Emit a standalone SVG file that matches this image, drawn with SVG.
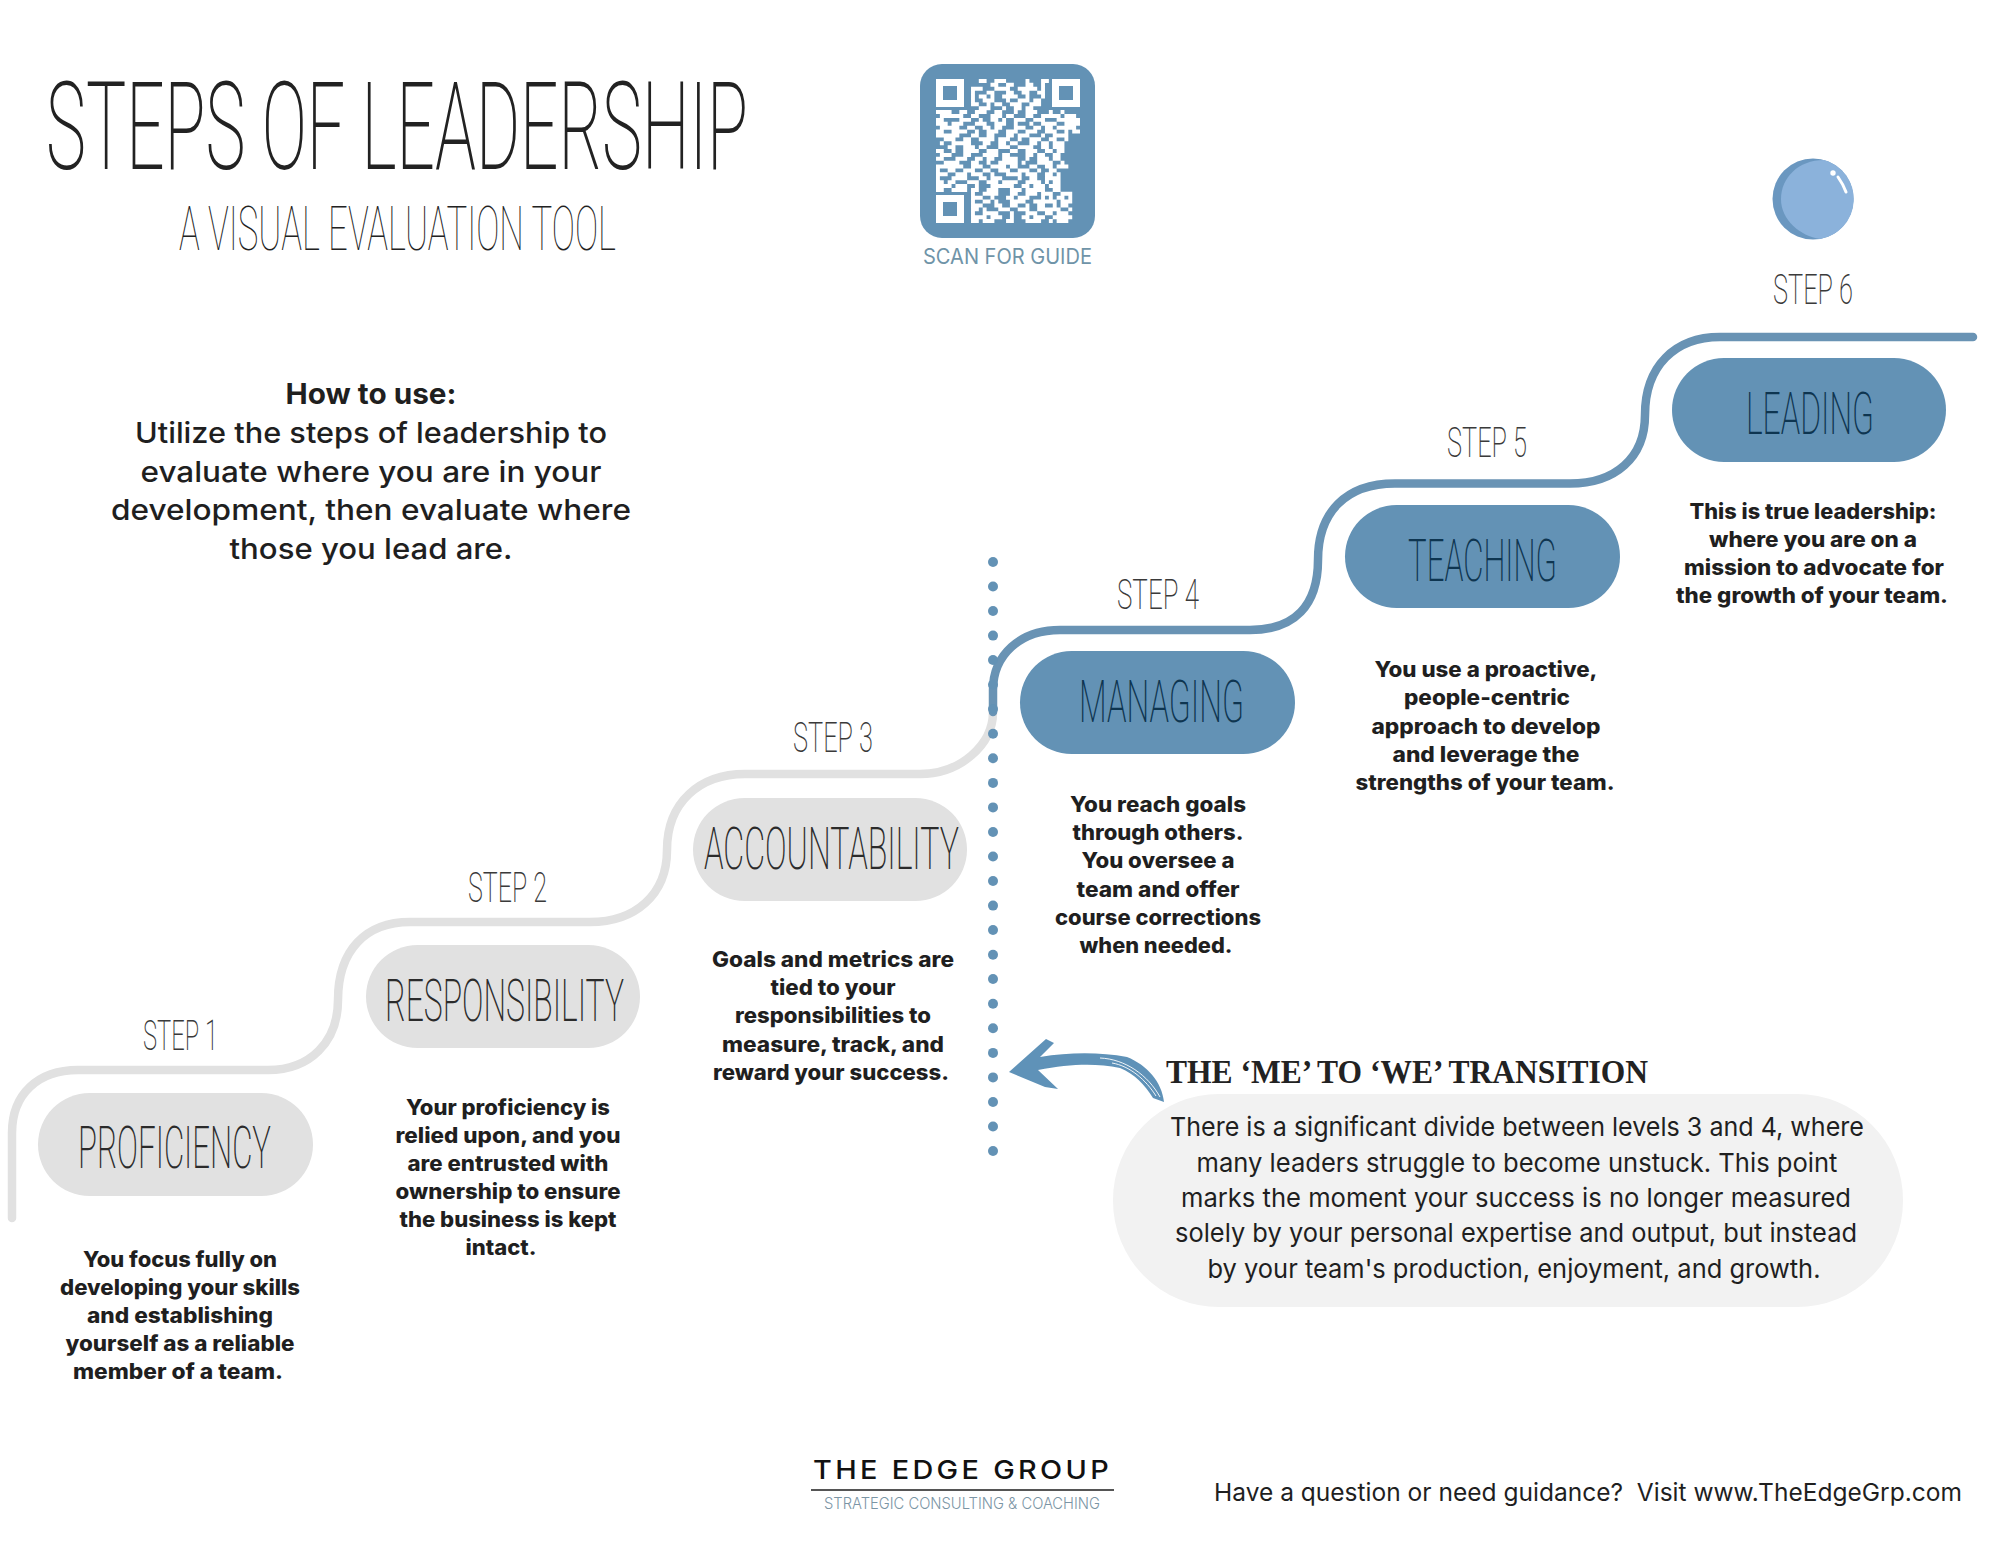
<svg xmlns="http://www.w3.org/2000/svg" width="2000" height="1545" viewBox="0 0 2000 1545">
<style>
text{font-family:"Roboto","Liberation Sans",sans-serif}
.thin{font-family:"Roboto","Liberation Sans",sans-serif;font-weight:200;fill:#222}
.pl{font-size:59px;fill:#2b2b2b}
.pd{font-size:59px;fill:#0e3550}
.st{font-size:42px;fill:#3a3a3a}
.d{font-family:"Inter","Liberation Sans",sans-serif;font-weight:800;font-size:21px;fill:#1f1f1f}
.u{font-family:"Inter","Liberation Sans",sans-serif;font-weight:500;font-size:29px;fill:#1f1f1f}
.b{font-family:"Inter","Liberation Sans",sans-serif;font-weight:400;font-size:26px;fill:#1f1f1f}
.grey{fill:#e1e1e1}.blue{fill:#6392b5}
.line{fill:none;stroke-width:8.5;stroke-linecap:round}
</style>
<rect width="2000" height="1545" fill="#fff"/>
<g id="title">
<text class="thin" x="46" y="169" font-size="122" textLength="702" lengthAdjust="spacingAndGlyphs">STEPS OF LEADERSHIP</text>
<text class="thin" x="179" y="250" font-size="61" textLength="437" lengthAdjust="spacingAndGlyphs" style="font-weight:100">A VISUAL EVALUATION TOOL</text>
</g>
<g id="qr">
<rect x="920" y="64" width="175" height="174" rx="22" fill="#6392b5"/>
<path fill="#fff" fill-rule="evenodd" d="M936 79h28v28h-28zM943 86v14h14v-14zM1052 79h28v28h-28zM1059 86v14h14v-14zM936 195h28v28h-28zM943 202v14h14v-14z"/>
<path transform="translate(936 79) scale(3.892)" fill="none" stroke="#fff" stroke-width="1.02" d="M11 .5h2m2 0h3m5 0h1m3 0h2M14 1.5h2m2 0h2m3 0h2m2 0h1M9 2.5h3m3 0h4m2 0h5m1 0h1M9 3.5h1m3 0h2m3 0h2m2 0h2m2 0h2M9 4.5h1m1 0h2m1 0h1m2 0h4m2 0h1m3 0h1M9 5.5h1m2 0h3m3 0h1m2 0h3m1 0h2M9 6.5h2m2 0h1m1 0h2m2 0h3m2 0h3M11 7.5h3m3 0h1m2 0h2m1 0h2M0 8.5h4m2 0h2m2 0h3m2 0h2m3 0h1m2 0h3m3 0h1m2 0h1M1 9.5h6m2 0h2m3 0h3m1 0h2m3 0h2m2 0h5m1 0h3M0 10.5h2m4 0h3m2 0h1m2 0h2m1 0h1m2 0h3m2 0h3m3 0h6M0 11.5h3m1 0h3m3 0h3m2 0h3m2 0h1m3 0h1m2 0h4m2 0h4M1 12.5h5m2 0h2m2 0h2m1 0h2m3 0h3m2 0h2m1 0h2m1 0h5M0 13.5h2m2 0h4m2 0h1m2 0h3m2 0h3m2 0h3m2 0h3m2 0h1m1 0h2M0 14.5h6m3 0h2m2 0h2m3 0h2m1 0h3m3 0h1m2 0h4M2 15.5h3m2 0h2m2 0h4m1 0h3m2 0h1m2 0h3m2 0h2m2 0h1M1 16.5h1m2 0h5m3 0h2m2 0h2m1 0h2m3 0h2m1 0h2m1 0h3M3 17.5h2m2 0h3m1 0h2m3 0h3m2 0h4m2 0h2m1 0h3M0 18.5h2m2 0h1m2 0h4m2 0h3m3 0h2m2 0h3m2 0h2m1 0h2M1 19.5h3m3 0h2m3 0h4m1 0h2m4 0h2m1 0h2m2 0h2M0 20.5h2m3 0h3m2 0h2m1 0h2m2 0h4m2 0h1m2 0h3m1 0h2M2 21.5h4m3 0h2m2 0h1m2 0h5m1 0h1m3 0h4m2 0h1M0 22.5h7m2 0h3m2 0h4m1 0h2m3 0h2m2 0h2m1 0h3M0 23.5h1m2 0h2m2 0h3m2 0h2m2 0h3m2 0h3m2 0h1m2 0h2M0 24.5h3m2 0h3m1 0h3m2 0h1m3 0h4m1 0h3m2 0h2m1 0h1M0 25.5h1m3 0h4m3 0h2m1 0h3m4 0h1m2 0h2m2 0h4M0 26.5h2m1 0h2m3 0h3m2 0h3m1 0h4m2 0h4m1 0h1m1 0h2M0 27.5h4m1 0h3m2 0h1m3 0h6m2 0h2m1 0h3m1 0h3M0 28.5h2m2 0h4m1 0h2m2 0h3m3 0h3m1 0h5m2 0h2M9 29.5h1m2 0h4m3 0h2m2 0h3m1 0h3m2 0h3M9 30.5h3m2 0h1m3 0h2m1 0h3m3 0h1m1 0h1m1 0h2m1 0h1M9 31.5h1m2 0h2m1 0h1m3 0h4m2 0h6m1 0h3M9 32.5h3m3 0h2m2 0h2m2 0h1m2 0h2m2 0h1m1 0h2M9 33.5h2m1 0h1m3 0h3m2 0h3m2 0h6m2 0h1M9 34.5h1m2 0h4m3 0h1m3 0h3m2 0h2m1 0h3M9 35.5h4m1 0h3m2 0h1m2 0h2m1 0h3m2 0h5M9 36.5h2m1 0h3m3 0h2m3 0h4m2 0h1m1 0h3"/>
<text x="923" y="264" font-size="21" textLength="169" lengthAdjust="spacingAndGlyphs" style="font-family:Inter,sans-serif;font-weight:400" fill="#6f94a8">SCAN FOR GUIDE</text>
</g>
<g id="connectors">
<path class="line" stroke="#e1e1e1" d="M12 1218V1133C12 1094 38 1070 78 1070H268C310 1070 338 1042 338 1000C338 950 366 922 410 922H590C635 922 667 895 667 850C667 802 700 774 745 774H920C960 774 993 745 993 712"/>
<path class="line" stroke="#6993b4" d="M993 712V690C993 655 1020 630 1060 630H1250C1295 630 1318 605 1318 560C1318 512 1346 483.500 1395 483.500H1570C1615 483.500 1645 458 1645 415C1645 366 1675 337 1720 337H1973"/>
<path fill="#5f92b8" d="M1009 1072L1046 1039L1054 1043L1040 1057C1070 1052 1100 1052 1127 1057C1147 1065 1162 1082 1164 1102L1153 1098C1145 1085 1135 1074 1120 1068C1095 1063 1070 1064 1038 1070L1058 1089L1045 1087Z"/>
<path fill="none" stroke="#fff" stroke-width=".9" d="M1100 1058C1125 1059 1148 1075 1160 1097M1112 1063C1130 1066 1146 1080 1156 1096"/>
</g>
<g id="divider" fill="#6392b5"><circle cx="993" cy="562" r="5"/><circle cx="993" cy="586.5" r="5"/><circle cx="993" cy="611" r="5"/><circle cx="993" cy="635.6" r="5"/><circle cx="993" cy="660" r="5"/><circle cx="993" cy="684.7" r="5"/><circle cx="993" cy="709" r="5"/><circle cx="993" cy="733.8" r="5"/><circle cx="993" cy="758.3" r="5"/><circle cx="993" cy="782.9" r="5"/><circle cx="993" cy="807.4" r="5"/><circle cx="993" cy="832" r="5"/><circle cx="993" cy="856.5" r="5"/><circle cx="993" cy="881" r="5"/><circle cx="993" cy="905.6" r="5"/><circle cx="993" cy="930" r="5"/><circle cx="993" cy="954.7" r="5"/><circle cx="993" cy="979" r="5"/><circle cx="993" cy="1003.8" r="5"/><circle cx="993" cy="1028.3" r="5"/><circle cx="993" cy="1052.9" r="5"/><circle cx="993" cy="1077.4" r="5"/><circle cx="993" cy="1102" r="5"/><circle cx="993" cy="1126.5" r="5"/><circle cx="993" cy="1151" r="5"/></g>
<g id="howto" text-anchor="middle">
<text class="u" x="371" y="404" style="font-weight:700" textLength="171" lengthAdjust="spacingAndGlyphs">How to use:</text>
<text class="u" x="371" y="443" textLength="472" lengthAdjust="spacingAndGlyphs">Utilize the steps of leadership to</text>
<text class="u" x="371" y="482" textLength="461" lengthAdjust="spacingAndGlyphs">evaluate where you are in your</text>
<text class="u" x="371" y="520" textLength="520" lengthAdjust="spacingAndGlyphs">development, then evaluate where</text>
<text class="u" x="371" y="559" textLength="283" lengthAdjust="spacingAndGlyphs">those you lead are.</text>
</g>
<g id="step1">
<rect class="grey" x="38" y="1093" width="275" height="103" rx="51.5"/>
<text class="thin pl" x="78" y="1168" textLength="193" lengthAdjust="spacingAndGlyphs">PROFICIENCY</text>
<text class="thin st" x="143" y="1050" textLength="75" lengthAdjust="spacingAndGlyphs">STEP 1</text>
<g text-anchor="middle"><text class="d" x="180" y="1267" textLength="194" lengthAdjust="spacingAndGlyphs">You focus fully on</text><text class="d" x="180" y="1295" textLength="240" lengthAdjust="spacingAndGlyphs">developing your skills</text><text class="d" x="180" y="1323" textLength="186" lengthAdjust="spacingAndGlyphs">and establishing</text><text class="d" x="180" y="1351" textLength="229" lengthAdjust="spacingAndGlyphs">yourself as a reliable</text><text class="d" x="178" y="1379" textLength="210" lengthAdjust="spacingAndGlyphs">member of a team.</text></g>
</g>
<g id="step2">
<rect class="grey" x="366" y="945" width="274" height="103" rx="51.5"/>
<text class="thin pl" x="385" y="1021" textLength="239" lengthAdjust="spacingAndGlyphs">RESPONSIBILITY</text>
<text class="thin st" x="468" y="902" textLength="79" lengthAdjust="spacingAndGlyphs">STEP 2</text>
<g text-anchor="middle"><text class="d" x="508" y="1115" textLength="204" lengthAdjust="spacingAndGlyphs">Your proficiency is</text><text class="d" x="508" y="1143" textLength="225" lengthAdjust="spacingAndGlyphs">relied upon, and you</text><text class="d" x="508" y="1171" textLength="201" lengthAdjust="spacingAndGlyphs">are entrusted with</text><text class="d" x="508" y="1199" textLength="225" lengthAdjust="spacingAndGlyphs">ownership to ensure</text><text class="d" x="508" y="1227" textLength="217" lengthAdjust="spacingAndGlyphs">the business is kept</text><text class="d" x="501" y="1255" textLength="71" lengthAdjust="spacingAndGlyphs">intact.</text></g>
</g>
<g id="step3">
<rect class="grey" x="693" y="798" width="274" height="103" rx="51.5"/>
<text class="thin pl" x="704" y="869" textLength="255" lengthAdjust="spacingAndGlyphs">ACCOUNTABILITY</text>
<text class="thin st" x="793" y="752" textLength="80" lengthAdjust="spacingAndGlyphs">STEP 3</text>
<g text-anchor="middle"><text class="d" x="833" y="967" textLength="242" lengthAdjust="spacingAndGlyphs">Goals and metrics are</text><text class="d" x="833" y="995" textLength="125" lengthAdjust="spacingAndGlyphs">tied to your</text><text class="d" x="833" y="1023" textLength="196" lengthAdjust="spacingAndGlyphs">responsibilities to</text><text class="d" x="833" y="1052" textLength="222" lengthAdjust="spacingAndGlyphs">measure, track, and</text><text class="d" x="831" y="1080" textLength="236" lengthAdjust="spacingAndGlyphs">reward your success.</text></g>
</g>
<g id="step4">
<rect class="blue" x="1020" y="651" width="275" height="103" rx="51.5"/>
<text class="thin pd" x="1079" y="722" textLength="165" lengthAdjust="spacingAndGlyphs">MANAGING</text>
<text class="thin st" x="1117" y="609" textLength="82" lengthAdjust="spacingAndGlyphs">STEP 4</text>
<g text-anchor="middle"><text class="d" x="1158" y="812" textLength="176" lengthAdjust="spacingAndGlyphs">You reach goals</text><text class="d" x="1158" y="840" textLength="171" lengthAdjust="spacingAndGlyphs">through others.</text><text class="d" x="1158" y="868" textLength="153" lengthAdjust="spacingAndGlyphs">You oversee a</text><text class="d" x="1158" y="897" textLength="163" lengthAdjust="spacingAndGlyphs">team and offer</text><text class="d" x="1158" y="925" textLength="206" lengthAdjust="spacingAndGlyphs">course corrections</text><text class="d" x="1156" y="953" textLength="153" lengthAdjust="spacingAndGlyphs">when needed.</text></g>
</g>
<g id="step5">
<rect class="blue" x="1345" y="505" width="275" height="103" rx="51.5"/>
<text class="thin pd" x="1408" y="581" textLength="149" lengthAdjust="spacingAndGlyphs">TEACHING</text>
<text class="thin st" x="1447" y="457" textLength="80" lengthAdjust="spacingAndGlyphs">STEP 5</text>
<g text-anchor="middle"><text class="d" x="1486" y="677" textLength="223" lengthAdjust="spacingAndGlyphs">You use a proactive,</text><text class="d" x="1487" y="705" textLength="166" lengthAdjust="spacingAndGlyphs">people-centric</text><text class="d" x="1486" y="734" textLength="229" lengthAdjust="spacingAndGlyphs">approach to develop</text><text class="d" x="1486" y="762" textLength="187" lengthAdjust="spacingAndGlyphs">and leverage the</text><text class="d" x="1485" y="790" textLength="259" lengthAdjust="spacingAndGlyphs">strengths of your team.</text></g>
</g>
<g id="step6">
<circle cx="1813" cy="199" r="40.500" fill="#6a97c0"/>
<path fill="#8bb2db" d="M1824 160A40.500 40.500 0 0 1 1820 239C1800 236 1781 220 1781 199C1781 178 1798 160 1824 160Z"/>
<circle cx="1833" cy="173" r="2.700" fill="#fff"/>
<path d="M1838 177Q1843 184 1846 192" fill="none" stroke="#fff" stroke-width="3" stroke-linecap="round"/>
<rect class="blue" x="1672" y="358" width="274" height="104" rx="52"/>
<text class="thin pd" x="1746" y="434" textLength="128" lengthAdjust="spacingAndGlyphs">LEADING</text>
<text class="thin st" x="1773" y="304" textLength="80" lengthAdjust="spacingAndGlyphs">STEP 6</text>
<g text-anchor="middle"><text class="d" x="1813" y="519" textLength="247" lengthAdjust="spacingAndGlyphs">This is true leadership:</text><text class="d" x="1813" y="547" textLength="208" lengthAdjust="spacingAndGlyphs">where you are on a</text><text class="d" x="1814" y="575" textLength="260" lengthAdjust="spacingAndGlyphs">mission to advocate for</text><text class="d" x="1812" y="603" textLength="272" lengthAdjust="spacingAndGlyphs">the growth of your team.</text></g>
</g>
<g id="transition">
<text x="1166" y="1083" font-size="34" textLength="482" lengthAdjust="spacingAndGlyphs" style="font-family:'Liberation Serif',serif;font-weight:700" fill="#222">THE ‘ME’ TO ‘WE’ TRANSITION</text>
<rect x="1113" y="1094" width="790" height="213" rx="106" fill="#f2f2f2"/>
<g text-anchor="middle"><text class="b" x="1517" y="1136" textLength="694" lengthAdjust="spacingAndGlyphs">There is a significant divide between levels 3 and 4, where</text><text class="b" x="1517" y="1172" textLength="641" lengthAdjust="spacingAndGlyphs">many leaders struggle to become unstuck. This point</text><text class="b" x="1516" y="1207" textLength="670" lengthAdjust="spacingAndGlyphs">marks the moment your success is no longer measured</text><text class="b" x="1516" y="1242" textLength="682" lengthAdjust="spacingAndGlyphs">solely by your personal expertise and output, but instead</text><text class="b" x="1514" y="1278" textLength="613" lengthAdjust="spacingAndGlyphs">by your team's production, enjoyment, and growth.</text></g>
</g>
<g id="footer">
<text x="813" y="1479" font-size="26" textLength="299" lengthAdjust="spacingAndGlyphs" letter-spacing="3" style="font-family:Inter,sans-serif;font-weight:500" fill="#111">THE EDGE GROUP</text>
<rect x="811" y="1489" width="303" height="2" fill="#555"/>
<text x="824" y="1509" font-size="16" textLength="276" lengthAdjust="spacingAndGlyphs" style="font-family:Inter,sans-serif;font-weight:300" fill="#7b95a5">STRATEGIC CONSULTING &amp; COACHING</text>
<text x="1214" y="1501" font-size="24.500" textLength="748" lengthAdjust="spacingAndGlyphs" style="font-family:Inter,sans-serif;font-weight:400" fill="#1f1f1f">Have a question or need guidance?&#160; Visit www.TheEdgeGrp.com</text>
</g>
</svg>
